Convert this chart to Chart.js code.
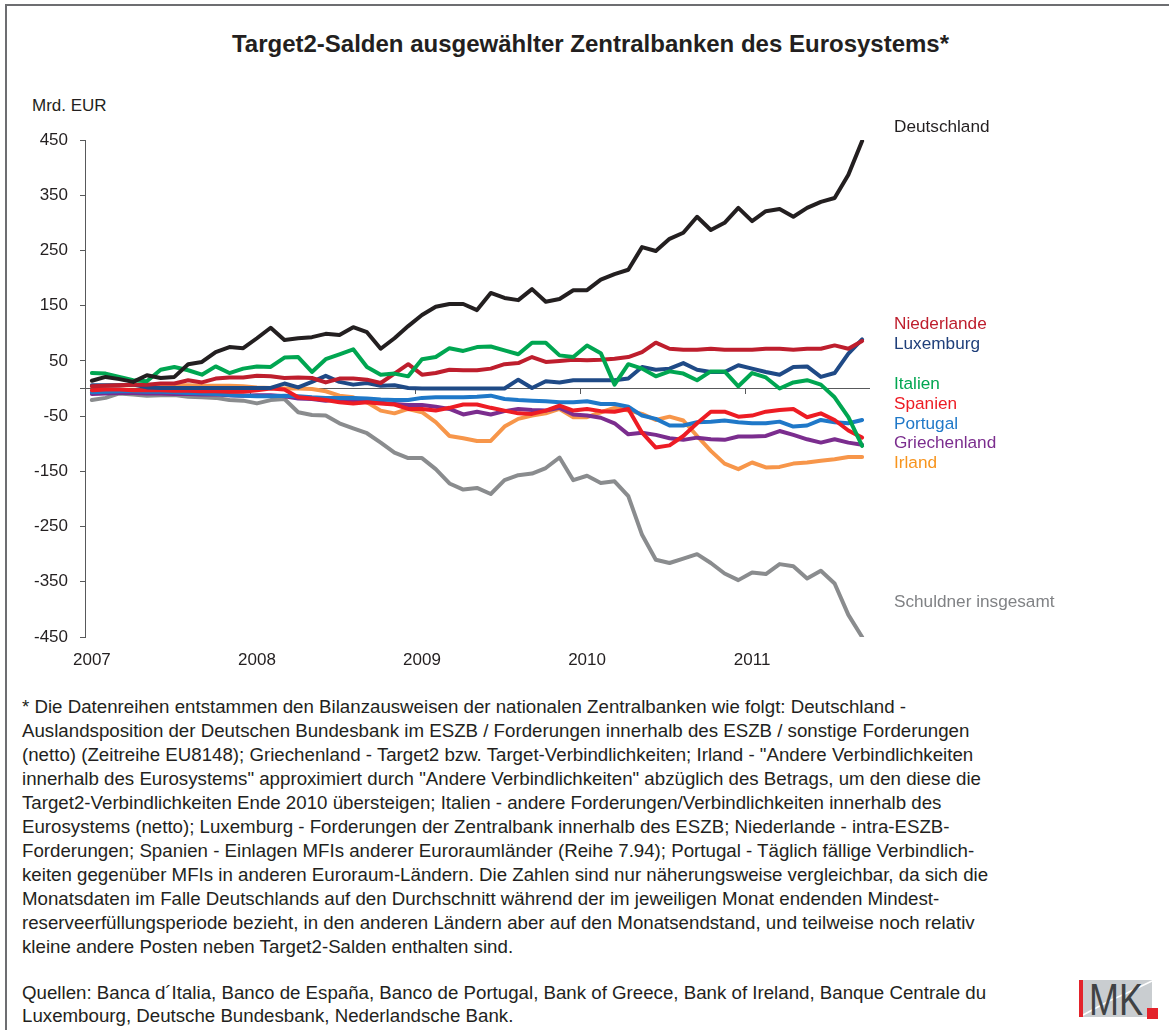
<!DOCTYPE html>
<html>
<head>
<meta charset="utf-8">
<script src="https://cdn.jsdelivr.net/npm/chart.js@4.4.1/dist/chart.umd.min.js"></script>
<style>
  html, body { margin:0; padding:0; background:#fff; }
  body { width:1169px; height:1030px; position:relative; overflow:hidden;
         font-family:"Liberation Sans", Arial, sans-serif; color:#231f20; }
  #frame { position:absolute; left:5px; top:4px; width:1250px; height:1100px;
           border:2px solid #6d6e71; box-sizing:border-box; }
  #title { position:absolute; left:0; width:1181px; top:30px; text-align:center;
           font-weight:bold; font-size:24px; line-height:28px; }
  #unit { position:absolute; left:32px; top:96px; font-size:17px; line-height:20px; }
  #chart { position:absolute; left:0; top:0; }
  .lbl { position:absolute; left:894px; font-size:17.2px; line-height:20px; white-space:nowrap; }
  #note { position:absolute; left:22px; top:695px; font-size:18.7px; line-height:24px; white-space:nowrap; }
  #src { position:absolute; left:22px; top:981px; font-size:18.7px; line-height:23px; white-space:nowrap; }
  #logo { position:absolute; left:1079px; top:979px; }
</style>
</head>
<body>
<div id="frame"></div>
<div id="title">Target2-Salden ausgewählter Zentralbanken des Eurosystems*</div>
<div id="unit">Mrd. EUR</div>
<canvas id="chart" width="1169" height="690"></canvas>
<div id="labels"></div>
<div id="note">* Die Datenreihen entstammen den Bilanzausweisen der nationalen Zentralbanken wie folgt: Deutschland -<br>Auslandsposition der Deutschen Bundesbank im ESZB / Forderungen innerhalb des ESZB / sonstige Forderungen<br>(netto) (Zeitreihe EU8148); Griechenland - Target2 bzw. Target-Verbindlichkeiten; Irland - "Andere Verbindlichkeiten<br>innerhalb des Eurosystems" approximiert durch "Andere Verbindlichkeiten" abzüglich des Betrags, um den diese die<br>Target2-Verbindlichkeiten Ende 2010 übersteigen; Italien - andere Forderungen/Verbindlichkeiten innerhalb des<br>Eurosystems (netto); Luxemburg - Forderungen der Zentralbank innerhalb des ESZB; Niederlande - intra-ESZB-<br>Forderungen; Spanien - Einlagen MFIs anderer Euroraumländer (Reihe 7.94); Portugal - Täglich fällige Verbindlich-<br>keiten gegenüber MFIs in anderen Euroraum-Ländern. Die Zahlen sind nur näherungsweise vergleichbar, da sich die<br>Monatsdaten im Falle Deutschlands auf den Durchschnitt während der im jeweiligen Monat endenden Mindest-<br>reserveerfüllungsperiode bezieht, in den anderen Ländern aber auf den Monatsendstand, und teilweise noch relativ<br>kleine andere Posten neben Target2-Salden enthalten sind.</div>
<div id="src">Quellen: Banca d´Italia, Banco de España, Banco de Portugal, Bank of Greece, Bank of Ireland, Banque Centrale du<br>Luxembourg, Deutsche Bundesbank, Nederlandsche Bank.</div>
<svg id="logo" width="82" height="42" viewBox="0 0 82 42">
  <rect x="0" y="1" width="73" height="37" fill="#c9cdd0"/>
  <polyline points="4,36 30,22 48,14 73,2" fill="none" stroke="#ffffff" stroke-width="1.5"/>
  <rect x="0" y="1" width="4" height="37" fill="#e3232b"/>
  <text x="10" y="36" font-family="Liberation Sans Narrow, Liberation Sans, Arial" font-size="45" fill="#3f4244" textLength="54" lengthAdjust="spacingAndGlyphs">MK</text>
  <rect x="68" y="29" width="11" height="11" fill="#e3232b"/>
</svg>
<script>
// ---- data (monthly, Jan 2007 – Sep 2011), Mrd. EUR ----
const months = [
  '2007-01','2007-02','2007-03','2007-04','2007-05','2007-06','2007-07','2007-08','2007-09','2007-10','2007-11','2007-12',
  '2008-01','2008-02','2008-03','2008-04','2008-05','2008-06','2008-07','2008-08','2008-09','2008-10','2008-11','2008-12',
  '2009-01','2009-02','2009-03','2009-04','2009-05','2009-06','2009-07','2009-08','2009-09','2009-10','2009-11','2009-12',
  '2010-01','2010-02','2010-03','2010-04','2010-05','2010-06','2010-07','2010-08','2010-09','2010-10','2010-11','2010-12',
  '2011-01','2011-02','2011-03','2011-04','2011-05','2011-06','2011-07','2011-08','2011-09'
];
const yearLabels = ['2007','2008','2009','2010','2011'];
const yTickValues = [450, 350, 250, 150, 50, -50, -150, -250, -350, -450];

const deutschland = [14,21,17,12,24,19,21,44,48,66,75,73,91,110,88,91,93,99,97,111,102,72,91,113,133,148,153,153,142,173,164,160,180,157,162,178,178,197,207,215,256,249,271,282,311,287,300,327,303,321,325,311,327,338,345,387,448];
const niederlande = [4,5,6,7,7,9,9,15,11,18,20,20,23,22,19,20,19,11,18,18,16,10,27,44,25,28,34,33,33,36,44,46,57,48,50,52,51,52,54,57,66,83,72,70,70,72,70,70,70,72,72,70,72,72,78,72,86];
const luxemburg = [6,6,6,7,2,1,1,1,1,1,1,1,1,1,9,2,12,23,12,7,10,5,6,1,0,0,0,0,0,0,0,16,1,13,11,15,15,15,15,18,39,34,36,46,34,30,30,42,36,30,25,39,40,21,28,63,89];
const italien = [28,27,21,15,13,34,39,33,25,40,28,36,40,39,56,57,30,53,62,71,39,25,27,22,53,57,73,68,75,76,69,62,83,83,60,57,78,64,7,44,36,22,31,27,15,31,31,4,28,20,0,11,15,7,-16,-52,-104];
const spanien = [-3,-2,-2,-3,-3,-3,-4,-4,-5,-5,-6,-6,-3,0,-2,-16,-18,-21,-25,-27,-25,-27,-29,-37,-37,-40,-35,-29,-29,-35,-40,-45,-46,-40,-31,-40,-37,-41,-42,-37,-80,-107,-103,-86,-63,-42,-42,-51,-49,-42,-39,-37,-52,-45,-57,-76,-89];
const portugal = [-7,-6,-5,-5,-6,-6,-7,-8,-9,-10,-12,-13,-14,-14,-13,-14,-16,-17,-17,-17,-18,-20,-21,-21,-17,-16,-16,-16,-15,-13,-19,-21,-22,-23,-25,-25,-23,-28,-28,-33,-49,-55,-67,-67,-61,-60,-58,-61,-63,-63,-60,-69,-67,-57,-61,-63,-57];
const griechenland = [-10,-9,-8,-8,-9,-9,-10,-10,-11,-11,-12,-13,-12,-12,-14,-18,-19,-22,-19,-22,-24,-26,-28,-30,-30,-33,-37,-47,-42,-47,-41,-37,-39,-40,-35,-47,-49,-53,-63,-83,-80,-84,-90,-93,-89,-92,-93,-87,-87,-86,-77,-84,-92,-98,-92,-98,-102];
const irland = [4,5,6,6,6,6,6,6,5,5,5,4,2,1,0,0,-1,-5,-13,-16,-25,-40,-45,-37,-43,-61,-86,-90,-95,-95,-69,-55,-49,-45,-37,-52,-52,-43,-35,-40,-46,-57,-51,-58,-86,-113,-136,-146,-134,-143,-142,-136,-134,-131,-128,-124,-124];
const schuldner = [-21,-17,-9,-11,-13,-12,-12,-15,-16,-17,-21,-22,-27,-21,-19,-43,-48,-49,-63,-72,-81,-98,-116,-126,-126,-146,-172,-183,-180,-191,-166,-157,-154,-144,-125,-166,-158,-171,-168,-195,-265,-310,-316,-308,-300,-316,-335,-347,-333,-336,-318,-322,-344,-330,-353,-410,-450];

// ---- styling ----
const series = [
  { name:'Deutschland',          data:deutschland,  line:'#231f20', text:'#231f20', labelTop:116 },
  { name:'Italien',              data:italien,      line:'#00a651', text:'#00a651', labelTop:373 },
  { name:'Niederlande',          data:niederlande,  line:'#be1e2d', text:'#be1e2d', labelTop:313 },
  { name:'Luxemburg',            data:luxemburg,    line:'#1f4a86', text:'#1f3f7a', labelTop:333 },
  { name:'Spanien',              data:spanien,      line:'#ed1c24', text:'#ed1c24', labelTop:393 },
  { name:'Portugal',             data:portugal,     line:'#1f78c8', text:'#1f78c8', labelTop:413 },
  { name:'Griechenland',         data:griechenland, line:'#7b2d8e', text:'#7b2d8e', labelTop:432 },
  { name:'Irland',               data:irland,       line:'#f7964a', text:'#f7941d', labelTop:452 },
  { name:'Schuldner insgesamt',  data:schuldner,    line:'#8a8c8e', text:'#808285', labelTop:591 }
];

const labelBox = document.getElementById('labels');
series.forEach(s => {
  const d = document.createElement('div');
  d.className = 'lbl';
  d.style.top = s.labelTop + 'px';
  d.style.color = s.text;
  d.textContent = s.name;
  labelBox.appendChild(d);
});

const font = { family: '"Liberation Sans", Arial, sans-serif', size: 17 };
const axisColor = '#58595b';

new Chart(document.getElementById('chart'), {
  type: 'line',
  data: {
    labels: months,
    datasets: series.map(s => ({
      label: s.name, data: s.data, xAxisID: 'x', yAxisID: 'y',
      borderColor: s.line, backgroundColor: s.line,
      borderWidth: 4, pointRadius: 0, tension: 0, fill: false,
      borderJoinStyle: 'round', borderCapStyle: 'round'
    }))
  },
  options: {
    responsive: false, animation: false, devicePixelRatio: 1,
    layout: { padding: { left: 0, right: 300, top: 140, bottom: 0 } },
    plugins: { legend: { display: false }, tooltip: { enabled: false } },
    scales: {
      x: {
        type: 'category', offset: true,
        grid: { display: false }, border: { display: false },
        ticks: {
          autoSkip: false, maxRotation: 0, minRotation: 0, padding: 5,
          color: '#231f20', font: font,
          callback: (v, i) => (i % 12 === 0 ? yearLabels[i / 12] : null)
        },
        afterFit: s => { s.height = 53; }
      },
      x2: {
        type: 'category', position: { y: 0 }, offset: true,
        grid: {
          drawOnChartArea: false, offset: true, drawTicks: true, tickLength: 5,
          color: 'rgba(0,0,0,0)', tickWidth: 1,
          tickColor: c => (c.index % 12 === 0 && c.index > 0 ? axisColor : 'rgba(0,0,0,0)')
        },
        border: { display: true, color: axisColor, width: 1 },
        ticks: { display: false }
      },
      y: {
        type: 'linear', min: -450, max: 450,
        afterBuildTicks: s => { s.ticks = yTickValues.concat([0]).map(v => ({ value: v })); },
        grid: { drawOnChartArea: false, drawTicks: true, tickLength: 5, color: axisColor },
        border: { display: true, color: axisColor, width: 1 },
        ticks: { padding: 12, color: '#231f20', font: font, callback: v => (v === 0 ? '' : String(v)) },
        afterFit: s => { s.width = 85; }
      }
    }
  }
});
</script>
</body>
</html>
